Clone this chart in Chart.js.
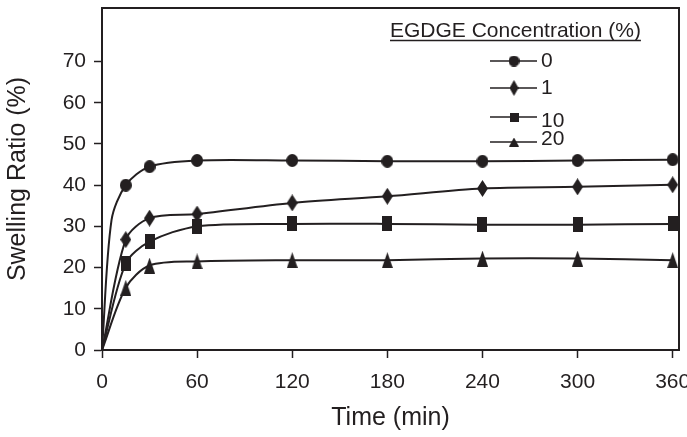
<!DOCTYPE html>
<html><head><meta charset="utf-8">
<script src="https://cdn.jsdelivr.net/npm/chart.js@4"></script>
<style>html,body{margin:0;padding:0;background:#fff}#wrap{width:687px;height:437px;position:relative}</style>
</head><body><div id="wrap"><canvas id="c"></canvas></div>
<script>
// ---- data ----
const sampleTimes = [15, 30, 60, 120, 180, 240, 300, 360];      // minutes (marked samples)
const ratio0  = [40.0, 44.5, 46.0, 46.0, 45.8, 45.8, 46.0, 46.2];
const ratio1  = [26.8, 32.0, 33.0, 35.7, 37.3, 39.2, 39.6, 40.1];
const ratio10 = [21.0, 26.3, 30.0, 30.6, 30.6, 30.4, 30.4, 30.6];
const ratio20 = [15.1, 20.5, 21.5, 21.8, 21.8, 22.2, 22.2, 21.8];
const curveStart = {x: 0, y: 0};          // every curve starts at the origin (no marker)
const knee0 = {x: 6, y: 31.5};            // unmarked bend of the 0 % curve
const seriesLabels = ['0', '1', '10', '20'];
const legendTitle = 'EGDGE Concentration (%)';
const xTickValues = [0, 60, 120, 180, 240, 300, 360];
const yTickValues = [0, 10, 20, 30, 40, 50, 60, 70];
const xTitle = 'Time (min)';
const yTitle = 'Swelling Ratio (%)';

// ---- styling ----
const INK = '#231f20';
const FONT = 'Liberation Sans, Arial, sans-serif';

function makeMarker(w, h, draw) {
  const c = document.createElement('canvas');
  c.width = w; c.height = h;
  const g = c.getContext('2d');
  g.fillStyle = INK;
  draw(g, w, h);
  return c;
}
const shapes = {
  circle: (g, w, h) => { g.beginPath(); g.ellipse(w / 2, h / 2, w / 2, h / 2, 0, 0, Math.PI * 2); g.fill(); },
  diamond: (g, w, h) => { g.beginPath(); g.moveTo(w / 2, 0); g.lineTo(w, h / 2); g.lineTo(w / 2, h); g.lineTo(0, h / 2); g.closePath(); g.fill(); },
  square: (g, w, h) => { g.fillRect(0, 0, w, h); },
  triangle: (g, w, h) => { g.beginPath(); g.moveTo(w / 2, 0); g.lineTo(w, h); g.lineTo(0, h); g.closePath(); g.fill(); }
};
const plotMarkers = [
  makeMarker(12, 13, shapes.circle),
  makeMarker(11, 17, shapes.diamond),
  makeMarker(10, 15, shapes.square),
  makeMarker(11, 16, shapes.triangle)
];
const legendMarkers = [
  makeMarker(11, 11, shapes.circle),
  makeMarker(9, 16, shapes.diamond),
  makeMarker(9, 9, shapes.square),
  makeMarker(10, 9, shapes.triangle)
];

function series(values, extra) {
  return [curveStart].concat(extra || [], sampleTimes.map((t, i) => ({x: t, y: values[i]})));
}
const allValues = [ratio0, ratio1, ratio10, ratio20];
const extras = [[knee0], [], [], []];
const drawOrder = [2, 3, 1, 2];

const datasets = allValues.map((vals, i) => ({
  label: seriesLabels[i],
  data: series(vals, extras[i]),
  borderColor: INK,
  backgroundColor: INK,
  borderWidth: 2,
  fill: false,
  tension: 0.3,
  cubicInterpolationMode: 'default',
  pointStyle: plotMarkers[i],
  pointRadius: ctx => (ctx.raw && sampleTimes.includes(ctx.raw.x)) ? 6 : 0,
  pointHoverRadius: 0,
  order: drawOrder[i]
}));

const framePlugin = {
  id: 'frame',
  afterDatasetsDraw(chart) {
    const {ctx, chartArea: a} = chart;
    ctx.save();
    ctx.strokeStyle = INK;
    ctx.lineWidth = 2;
    ctx.beginPath();
    ctx.moveTo(a.left, a.top);
    ctx.lineTo(a.right, a.top);
    ctx.lineTo(a.right, a.bottom);
    ctx.stroke();
    ctx.restore();
  }
};

const legendPlugin = {
  id: 'customLegend',
  afterDraw(chart) {
    const ctx = chart.ctx;
    ctx.save();
    ctx.fillStyle = INK;
    ctx.strokeStyle = INK;
    ctx.font = '21px ' + FONT;
    ctx.textAlign = 'left';
    ctx.textBaseline = 'alphabetic';
    ctx.fillText(legendTitle, 390, 37);
    const w = ctx.measureText(legendTitle).width;
    ctx.lineWidth = 1.5;
    ctx.beginPath(); ctx.moveTo(390, 40.5); ctx.lineTo(390 + w, 40.5); ctx.stroke();

    const rowY = [61, 88, 117, 142];
    const labelY = [61, 88, 121, 139];
    ctx.font = '21px ' + FONT;
    ctx.textBaseline = 'middle';
    chart.data.datasets.forEach((ds, i) => {
      ctx.lineWidth = 1.5;
      ctx.beginPath(); ctx.moveTo(490, rowY[i]); ctx.lineTo(537, rowY[i]); ctx.stroke();
      const m = legendMarkers[i];
      ctx.drawImage(m, 514 - m.width / 2, rowY[i] - m.height / 2);
      ctx.fillText(ds.label, 541, labelY[i]);
    });
    ctx.restore();
  }
};

new Chart(document.getElementById('c'), {
  type: 'line',
  data: {datasets},
  options: {
    animation: false,
    responsive: true,
    maintainAspectRatio: false,
    devicePixelRatio: 1,
    layout: {padding: {top: 8, right: 3, left: 0, bottom: 0}},
    plugins: {legend: {display: false}, tooltip: {enabled: false}},
    scales: {
      x: {
        type: 'linear', min: 0, max: 364,
        afterBuildTicks: s => { s.ticks = xTickValues.map(v => ({value: v})); },
        afterFit: s => { s.height = 87; s.paddingLeft = 0; s.paddingRight = 0; },
        grid: {drawOnChartArea: false, drawTicks: true, tickLength: 8, tickColor: INK, tickWidth: 1.5},
        border: {display: true, color: INK, width: 2},
        ticks: {color: INK, font: {family: FONT, size: 21}, padding: 12, maxRotation: 0, autoSkip: false},
        title: {display: true, text: xTitle, color: INK, font: {family: FONT, size: 25}, padding: {top: 0, bottom: 4}}
      },
      y: {
        type: 'linear', min: 0, max: 83,
        afterBuildTicks: s => { s.ticks = yTickValues.map(v => ({value: v})); },
        afterFit: s => { s.width = 102; s.paddingTop = 0; s.paddingBottom = 0; },
        grid: {drawOnChartArea: false, drawTicks: true, tickLength: 8, tickColor: INK, tickWidth: 1.5},
        border: {display: true, color: INK, width: 2},
        ticks: {color: INK, font: {family: FONT, size: 21}, padding: 8, autoSkip: false},
        title: {display: true, text: yTitle, color: INK, font: {family: FONT, size: 25}, padding: {top: 3, bottom: 0}}
      }
    }
  },
  plugins: [framePlugin, legendPlugin]
});
</script>
</body></html>
